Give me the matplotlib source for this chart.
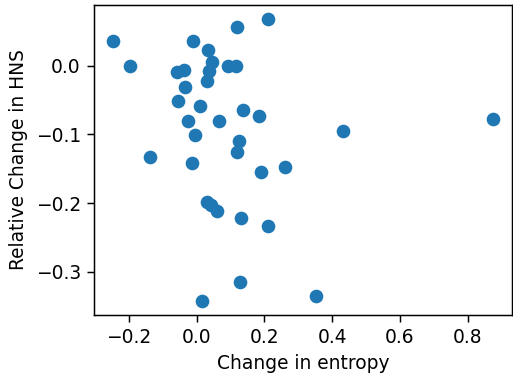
import matplotlib
matplotlib.use('Agg')
import matplotlib.pyplot as plt

# change in entropy vs relative change in HNS
entropy_change = [-0.247, -0.195, -0.010, 0.119, 0.210, 0.033, 0.045, 0.093, 0.116,
                  -0.058, -0.036, 0.037, 0.031, -0.034, -0.055, 0.010, 0.136, 0.183,
                  0.874, -0.025, 0.067, 0.432, -0.005, 0.126, 0.119, -0.138, -0.013,
                  0.190, 0.262, 0.030, 0.044, 0.061, 0.130, 0.211, 0.128, 0.351, 0.015]
hns_change = [0.035, 0.000, 0.036, 0.056, 0.068, 0.022, 0.005, -0.000, 0.000,
              -0.010, -0.007, -0.008, -0.022, -0.031, -0.052, -0.059, -0.064, -0.074,
              -0.077, -0.081, -0.081, -0.095, -0.101, -0.109, -0.126, -0.133, -0.142,
              -0.154, -0.147, -0.198, -0.203, -0.211, -0.221, -0.233, -0.314, -0.335, -0.342]

dpi = 134
fig, ax = plt.subplots(figsize=(513 / dpi, 375 / dpi), dpi=dpi)
fig.subplots_adjust(left=0.183, right=0.9975, top=0.9875, bottom=0.16)

ax.scatter(entropy_change, hns_change, s=40, color='#1f77b4')
ax.set_xlabel('Change in entropy')
ax.set_ylabel('Relative Change in HNS')

fig.savefig('out.png', dpi=dpi)
